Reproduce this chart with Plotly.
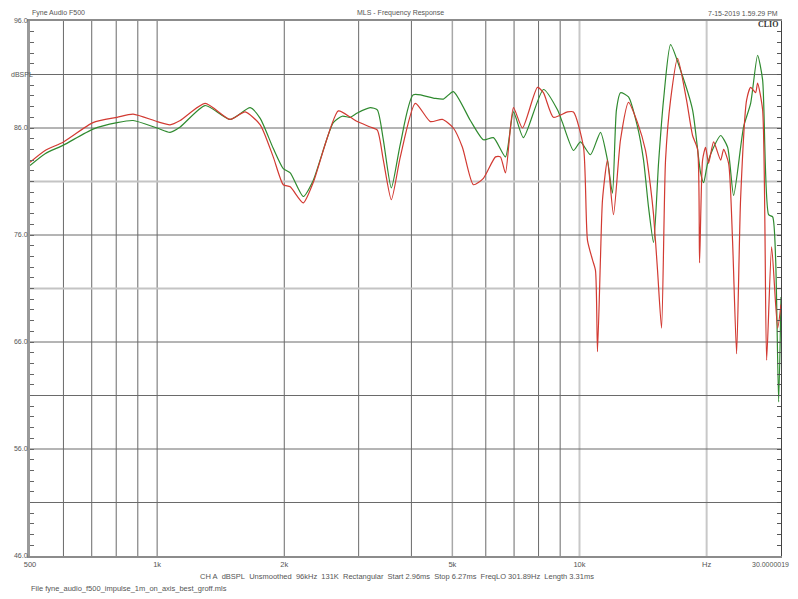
import math
import plotly.graph_objects as go

# ---- data ----
green_freq = [500, 543, 600, 705, 804, 877, 1000, 1073, 1134, 1299, 1489, 1661, 1754, 1883, 1989,
              2066, 2218, 2342, 2612, 2744, 2867, 2978, 3196, 3321, 3432, 3585, 3765, 4042, 4508,
              4761, 5028, 5516, 5923, 6257, 6679, 6976, 7366, 8215, 8868, 9115, 9677, 10055, 10617,
              11213, 11648, 11970, 12232, 12506, 13063, 13722, 14179, 14570, 14974, 15388, 15811,
              16430, 17350, 18523, 19350, 19670, 20107, 20774, 21587, 22425, 23170, 24464, 25424,
              26405, 27138, 28044, 28665, 29138, 29618, 30000]
green_db = [82.5, 83.6, 84.4, 85.9, 86.5, 86.7, 86.0, 85.6, 86.1, 88.1, 86.8, 87.9, 86.9, 84.1, 82.2,
            81.8, 79.6, 81.1, 86.5, 87.1, 87.0, 87.4, 87.9, 87.7, 84.9, 80.4, 84.5, 89.1, 88.8,
            88.7, 89.4, 86.7, 84.9, 85.1, 83.3, 87.5, 85.1, 89.6, 87.7, 86.5, 83.9, 84.7, 83.5,
            85.6, 83.0, 79.9, 87.7, 89.3, 88.9, 86.1, 83.0, 78.6, 75.3, 82.7, 88.6,
            93.8, 91.4, 87.7, 81.8, 80.9, 82.7, 84.2, 85.3, 84.2, 79.7, 86.1, 88.3,
            92.8, 90.5, 77.9, 77.7, 73.7, 60.4, 70.2]

red_freq = [500, 543, 600, 705, 804, 877, 1000, 1073, 1134, 1299, 1489, 1616, 1754, 1883, 1989,
            2066, 2218, 2342, 2685, 2867, 2978, 3196, 3321, 3432, 3585, 3765, 4086, 4434, 4735,
            5028, 5282, 5607, 5923, 6325, 6497, 6679, 6976, 7327, 7951, 8215, 8674, 9367, 9677,
            10222, 10446, 10733, 10911, 11031, 11213, 11337, 11648, 12036, 12506, 13063, 13722,
            14332, 14731, 14974, 15303, 15642, 15985, 16430, 17069, 17925, 18523, 19036, 19244,
            19562, 19886, 20215, 20774, 21587, 21942, 22546, 23035, 23552, 24065, 24870, 25424,
            26122, 26405, 27138, 27739, 28508, 29457, 30000]
red_db = [82.8, 83.9, 84.7, 86.5, 87.0, 87.3, 86.6, 86.3, 86.7, 88.3, 86.8, 87.5, 86.3, 83.3, 80.7,
          80.5, 79.0, 80.9, 87.6, 87.0, 86.6, 86.1, 85.8, 83.0, 79.3, 83.3, 88.3, 86.6, 86.8,
          86.0, 84.2, 80.7, 81.3, 83.3, 83.3, 81.8, 87.9, 86.0, 89.8, 89.3, 87.0, 87.5, 87.5,
          84.2, 75.5, 73.7, 72.7, 65.1, 73.9, 79.3, 83.0, 77.9, 84.9, 88.4, 86.5,
          83.9, 80.5, 77.9, 72.7, 67.3, 83.0, 88.6, 92.5, 88.6, 85.3, 84.0, 73.4,
          83.0, 84.2, 82.7, 84.7, 83.0, 84.0, 82.7, 75.5, 64.9, 79.3, 88.6, 89.8,
          89.3, 90.2, 87.7, 64.3, 74.9, 67.3, 69.5]

x_tick_vals = [500, 1000, 2000, 5000, 10000, 20000]
x_tick_text = ["500", "1k", "2k", "5k", "10k", "Hz"]
x_end_label = "30.0000019"
x_grid_dark = [600, 700, 800, 900, 1000, 2000, 3000, 4000, 6000, 7000, 8000, 9000]
x_grid_mid = [5000]
x_grid_light = [10000, 20000]

y_min, y_max = 46, 96
y_label_map = {96: "96.0", 86: "86.0", 76: "76.0", 66: "66.0", 56: "56.0", 46: "46.0"}
y_unit_label = "dBSPL"
y_unit_value = 91
y_grid_dark = [51, 56, 61, 66, 76, 86, 91]
y_grid_light = [71, 81]

title_left = "Fyne Audio F500"
title_center = "MLS - Frequency Response"
title_right = "7-15-2019 1.59.29 PM"
info_line = ("CH A  dBSPL  Unsmoothed  96kHz  131K  Rectangular  Start 2.96ms  "
             "Stop 6.27ms  FreqLO 301.89Hz  Length 3.31ms")
file_line = "File fyne_audio_f500_impulse_1m_on_axis_best_groff.mls"

# ---- figure ----
FONT = "Liberation Sans"
TXT = "#555555"
fig = go.Figure()

fig.add_trace(go.Scatter(x=green_freq, y=green_db, mode="lines",
                         line=dict(color="#2f8a2f", width=1.2, shape="spline", smoothing=0.6),
                         hoverinfo="skip"))
fig.add_trace(go.Scatter(x=red_freq, y=red_db, mode="lines",
                         line=dict(color="#d23a32", width=1.2, shape="spline", smoothing=0.6),
                         hoverinfo="skip"))
# invisible trace to anchor the right-hand tick axis
fig.add_trace(go.Scatter(x=[green_freq[0]], y=[green_db[0]], yaxis="y2", mode="markers",
                         marker=dict(opacity=0), hoverinfo="skip"))

shapes = []
for xv, col, w in ([(v, "#6a6a6a", 1) for v in x_grid_dark] +
                   [(v, "#a8a8a8", 1.5) for v in x_grid_mid] +
                   [(v, "#c8c8c8", 2) for v in x_grid_light]):
    shapes.append(dict(type="line", xref="x", yref="paper", x0=xv, x1=xv, y0=0, y1=1,
                       line=dict(color=col, width=w), layer="below"))
for yv, col, w in ([(v, "#6a6a6a", 1) for v in y_grid_dark] +
                   [(v, "#c4c4c4", 2) for v in y_grid_light]):
    shapes.append(dict(type="line", xref="paper", yref="y", x0=0, x1=1, y0=yv, y1=yv,
                       line=dict(color=col, width=w), layer="below"))

y_ticks = list(range(y_min, y_max + 1))
y_text = [y_label_map.get(v, "") for v in y_ticks]

# the page body keeps its default 8px margin, so the figure is sized/offset to compensate
OFF = 8
fig.update_layout(
    width=798 - OFF, height=599 - OFF,
    margin=dict(l=30 - OFF, r=17, t=21 - OFF, b=43),
    plot_bgcolor="white", paper_bgcolor="white",
    showlegend=False,
    shapes=shapes,
    xaxis=dict(type="log", range=[math.log10(500), math.log10(30000)], automargin=False,
               tickvals=x_tick_vals, ticktext=x_tick_text, ticks="",
               showgrid=False, zeroline=False, showline=True, linecolor="#8c8c8c",
               linewidth=2, mirror=True, tickfont=dict(family=FONT, size=7.5, color=TXT)),
    yaxis=dict(range=[y_min, y_max], tickvals=y_ticks, ticktext=y_text, ticks="inside",
               automargin=False, ticklabelstandoff=-2,
               ticklen=4, tickcolor="#666666", showgrid=False, zeroline=False,
               showline=True, linecolor="#9a9a9a", linewidth=3,
               tickfont=dict(family=FONT, size=7, color=TXT)),
    yaxis2=dict(range=[y_min, y_max], overlaying="y", side="right", anchor="x",
                automargin=False,
                tickvals=y_ticks, ticks="inside", ticklen=4, tickcolor="#555555",
                showticklabels=False, showgrid=False, zeroline=False,
                showline=True, linecolor="#444444", linewidth=1),
)

def ann(text, x, y, xanchor, size=7.5, family=FONT, color=TXT, yanchor="middle", yref="paper"):
    fig.add_annotation(text=text, x=x, y=y, xref="paper", yref=yref, showarrow=False,
                       xanchor=xanchor, yanchor=yanchor,
                       font=dict(family=family, size=size, color=color))

# page-pixel -> paper conversion (plot area spans page x 30..781, y 21..556)
plot_l, plot_r, plot_t, plot_b = 30, 798 - 17, 21, 599 - 43
def px(xp): return (xp - plot_l) / (plot_r - plot_l)
def py(yp): return (plot_b - yp) / (plot_b - plot_t)

ann(y_unit_label, px(9), y_unit_value, "left", size=7, yref="y")
ann(title_left, px(30), py(13), "left", size=7)
ann(title_center, px(400), py(13), "center", size=7)
ann(title_right, px(780), py(13), "right", size=7)
ann("<b>CLIO</b>", px(780), py(25), "right", size=8, family="Liberation Serif", color="#333333")
ann(x_end_label, px(791), py(564), "right", size=7)
ann(info_line.replace("  ", "\u00a0\u00a0"), px(397), py(576), "center")
ann(file_line, px(29), py(588), "left")

fig.write_html("out.html")
